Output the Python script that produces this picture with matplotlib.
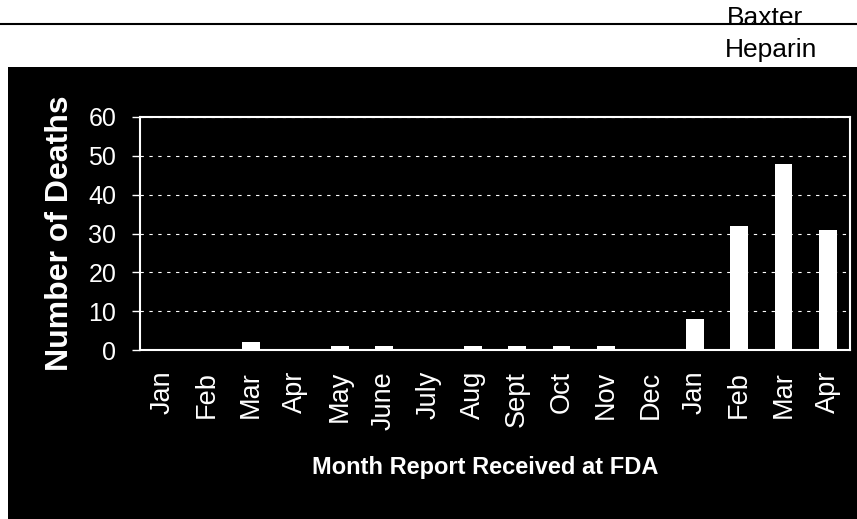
import numpy as np
import matplotlib
matplotlib.use("Agg")
import matplotlib.pyplot as plt
from matplotlib.patches import Rectangle
from matplotlib.lines import Line2D

# Datos
meses = ['Jan', 'Feb', 'Mar', 'Apr', 'May', 'June', 'July', 'Aug', 'Sept',
         'Oct', 'Nov', 'Dec', 'Jan', 'Feb', 'Mar', 'Apr']
muertes = [0, 0, 2, 0, 1, 1, 0, 1, 1, 1, 1, 0, 8, 32, 48, 31]
yticks = [0, 10, 20, 30, 40, 50, 60]

plt.rcParams['font.family'] = ['Liberation Sans', 'DejaVu Sans']

fig = plt.figure(figsize=(8.57, 5.19), dpi=100)
fig.patch.set_facecolor('white')

# caja negra (detras de los ejes)
fig.add_artist(Rectangle((8/857, 0), 1, (519-67)/519, transform=fig.transFigure,
                         facecolor='black', edgecolor='none', zorder=-5))
# linea de arriba y texto
fig.add_artist(Line2D([0, 1], [1-24/519, 1-24/519], color='black', lw=1.5,
                      transform=fig.transFigure, zorder=-5))
fig.text(727/857, 1-25/519, 'Baxter', fontsize=19, color='black', va='baseline', ha='left')
fig.text(725/857, 1-57/519, 'Heparin', fontsize=19, color='black', va='baseline', ha='left')

ax = fig.add_axes([140/857, (519-350)/519, 710/857, 233/519])
ax.set_zorder(2)
ax.set_facecolor('black')
x = np.arange(len(meses))
ax.bar(x, muertes, width=0.4, color='white', zorder=3)

ax.set_xlim(-0.5, len(meses)-0.5)
ax.set_ylim(0, 60)
ax.set_yticks(yticks)
ax.set_xticks(x)
ax.set_xticklabels(meses, rotation=90, color='white', fontsize=19.5)
ax.tick_params(axis='x', length=0, pad=15)
ax.tick_params(axis='y', colors='white', labelsize=18, length=6, width=1, pad=11)
ax.grid(axis='y', color='white', linestyle=(0, (3, 5)), lw=0.8)
for s in ax.spines.values():
    s.set_color('white')
    s.set_linewidth(1.5)

ax.set_ylabel('Number of Deaths', color='white', fontsize=23, fontweight='bold', va='center')
ax.yaxis.set_label_coords(-0.1127, 0.5)
ax.set_xlabel('Month Report Received at FDA', color='white', fontsize=17,
              fontweight='bold', va='center')
ax.xaxis.set_label_coords(0.486, -0.506)

plt.savefig('out.png', dpi=100)
